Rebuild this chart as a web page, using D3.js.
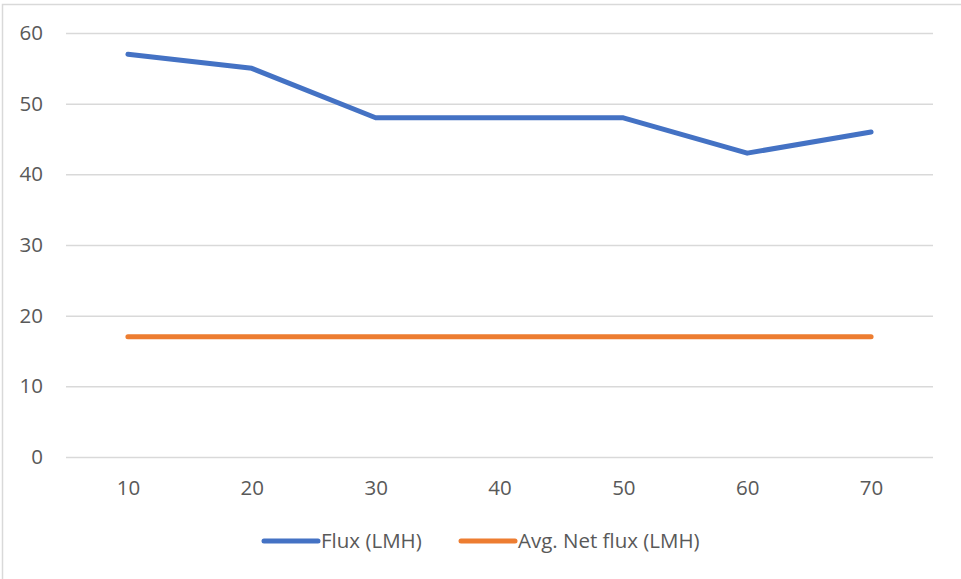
<!DOCTYPE html>
<html>
<head>
<meta charset="utf-8">
<script src="https://cdn.jsdelivr.net/npm/d3@7"></script>
<style>
  html, body { margin: 0; padding: 0; background: #fff; }
  svg { display: block; }
  text { font-family: "Open Sans", "Liberation Sans", sans-serif; fill: #595959; }
</style>
</head>
<body>
<svg id="chart" width="961" height="579"></svg>
<script>
// Time points (x categories)
const categories = [10, 20, 30, 40, 50, 60, 70];
// Measured flux per time point
const fluxValues = [57, 55, 48, 48, 48, 43, 46];
// Average net flux (constant)
const netFluxValues = [17, 17, 17, 17, 17, 17, 17];
const yTicks = [0, 10, 20, 30, 40, 50, 60];
const seriesNames = ["Flux (LMH)", "Avg. Net flux (LMH)"];
const seriesColors = ["#4472C4", "#ED7D31"];

const svg = d3.select("#chart");
const W = 961, H = 579;
const plot = { left: 66, right: 933, top: 33, bottom: 457 };
const fontSize = 20.5;

// Outer chart frame
svg.append("rect")
  .attr("x", 2.5).attr("y", 4.5)
  .attr("width", W + 10).attr("height", H + 10)
  .attr("fill", "none").attr("stroke", "#d9d9d9").attr("stroke-width", 1.5);

const x = d3.scalePoint().domain(categories).range([plot.left, plot.right]).padding(0.5);
const y = d3.scaleLinear().domain([0, 60]).range([plot.bottom, plot.top]);

// Horizontal gridlines
const yAxis = d3.axisLeft(y).tickValues(yTicks).tickSize(-(plot.right - plot.left)).tickPadding(23);
const gy = svg.append("g").attr("transform", `translate(${plot.left},0)`).call(yAxis);
gy.select(".domain").remove();
gy.selectAll(".tick line").attr("stroke", "#d9d9d9").attr("stroke-width", 1.5);
gy.selectAll(".tick text").attr("font-size", fontSize).attr("font-family", null).style("fill", "#595959");

// Category labels
const xAxis = d3.axisBottom(x).tickSize(0).tickPadding(23);
const gx = svg.append("g").attr("transform", `translate(0,${plot.bottom})`).call(xAxis);
gx.select(".domain").remove();
gx.selectAll(".tick text").attr("font-size", fontSize).attr("font-family", null).style("fill", "#595959");

const line = d3.line().x((d, i) => x(categories[i])).y(d => y(d));

[fluxValues, netFluxValues].forEach((vals, k) => {
  svg.append("path")
    .datum(vals)
    .attr("d", line)
    .attr("fill", "none")
    .attr("stroke", seriesColors[k])
    .attr("stroke-width", 5)
    .attr("stroke-linecap", "round")
    .attr("stroke-linejoin", "round");
});

// Legend
const legendItems = [
  { x0: 264, name: seriesNames[0], color: seriesColors[0] },
  { x0: 461, name: seriesNames[1], color: seriesColors[1] }
];
const ly = 541;
legendItems.forEach(it => {
  svg.append("line")
    .attr("x1", it.x0).attr("x2", it.x0 + 54)
    .attr("y1", ly).attr("y2", ly)
    .attr("stroke", it.color).attr("stroke-width", 5).attr("stroke-linecap", "round");
  svg.append("text")
    .attr("x", it.x0 + 57).attr("y", ly + 7)
    .attr("font-size", fontSize)
    .text(it.name);
});
</script>
</body>
</html>
